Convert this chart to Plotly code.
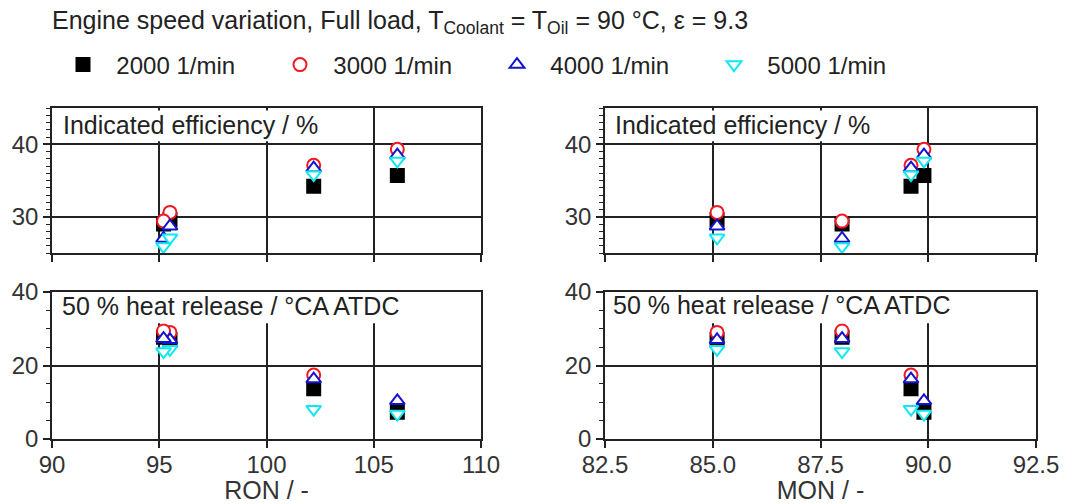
import plotly.graph_objects as go

# ---------------- data ----------------
ron = [95.5, 95.2, 102.2, 106.1]
mon = [85.1, 88.0, 89.6, 89.9]

speeds = ["2000 1/min", "3000 1/min", "4000 1/min", "5000 1/min"]

eff_2000 = [29.6, 29.0, 34.2, 35.7]
eff_3000 = [30.6, 29.4, 37.1, 39.3]
eff_4000 = [28.7, 27.0, 36.7, 38.5]
eff_5000 = [27.1, 25.9, 35.8, 37.7]

hr_2000 = [27.0, 27.7, 13.7, 7.3]
hr_3000 = [29.0, 29.4, 17.4, None]
hr_4000 = [27.0, 27.3, 16.3, 10.4]
hr_5000 = [24.4, 23.8, 8.1, 6.8]

eff = [eff_2000, eff_3000, eff_4000, eff_5000]
hr = [hr_2000, hr_3000, hr_4000, hr_5000]

ron_ticks = [90, 95, 100, 105, 110]
mon_ticks = [82.5, 85.0, 87.5, 90.0, 92.5]
mon_ticktext = ["82.5", "85.0", "87.5", "90.0", "92.5"]

# ---------------- styles ----------------
symbols = ["square", "circle", "triangle-up", "triangle-down"]
colors = ["#000000", "#f01822", "#1414d0", "#10e8f0"]
fills = ["#000000", "white", "white", "white"]

FONT = "Liberation Sans, Arial, sans-serif"
W, H = 1078, 504
LINE = "#222222"

fig = go.Figure()

axes = [("x", "y", ron, eff), ("x2", "y2", mon, eff), ("x3", "y3", ron, hr), ("x4", "y4", mon, hr)]
for k, (xa, ya, xs, ys) in enumerate(axes):
    for i in range(4):
        fig.add_trace(go.Scatter(
            x=xs, y=ys[i], mode="markers", xaxis=xa, yaxis=ya,
            name="\u00a0\u00a0" + speeds[i], showlegend=(k == 0),
            marker=dict(symbol=symbols[i], size=13, color=fills[i],
                        line=dict(color=colors[i], width=2)),
        ))

def px_x(p):
    return p / W

def px_y(p):
    return 1 - p / H

dom_left = [px_x(52), px_x(481)]
dom_right = [px_x(605), px_x(1036)]
dom_top = [px_y(253), px_y(108)]
dom_bot = [px_y(439), px_y(292)]

tickfont = dict(family=FONT, size=24, color="#333333")

def xaxis(domain, rng, tv, tt, anchor, labels, title=None):
    d = dict(domain=domain, range=rng, anchor=anchor, tickvals=tv, ticktext=tt,
             showticklabels=labels, ticks="outside", ticklen=7, tickwidth=1.5, tickcolor=LINE,
             ticklabelstandoff=-4,
             showgrid=True, gridcolor=LINE, gridwidth=1.5, zeroline=False,
             showline=True, mirror=True, linecolor=LINE, linewidth=1.5,
             tickfont=tickfont, automargin=False, fixedrange=True)
    if title:
        d["title"] = dict(text=title, font=dict(family=FONT, size=25, color="#333333"), standoff=2)
    return d

def yaxis(domain, rng, tv, minor_dtick, anchor):
    return dict(domain=domain, range=rng, anchor=anchor, tickvals=tv,
                ticks="outside", ticklen=7, tickwidth=1.5, tickcolor=LINE,
                minor=dict(dtick=minor_dtick, tick0=0, ticks="outside", ticklen=4,
                           tickwidth=1, tickcolor=LINE, showgrid=False),
                showgrid=True, gridcolor=LINE, gridwidth=1.5, zeroline=False,
                showline=True, mirror=True, linecolor=LINE, linewidth=1.5,
                tickfont=tickfont, automargin=False, fixedrange=True)

fig.update_layout(
    width=W, height=H,
    margin=dict(l=0, r=0, t=0, b=0),
    paper_bgcolor="white", plot_bgcolor="white",
    font=dict(family=FONT, size=24, color="#333333"),
    xaxis=xaxis(dom_left, [90, 110], ron_ticks, [str(t) for t in ron_ticks], "y", False),
    yaxis=yaxis(dom_top, [25, 45], [30, 40], 1, "x"),
    xaxis2=xaxis(dom_right, [82.5, 92.5], mon_ticks, mon_ticktext, "y2", False),
    yaxis2=yaxis(dom_top, [25, 45], [30, 40], 1, "x2"),
    xaxis3=xaxis(dom_left, [90, 110], ron_ticks, [str(t) for t in ron_ticks], "y3", True, "RON / -"),
    yaxis3=yaxis(dom_bot, [0, 40], [0, 20, 40], 5, "x3"),
    xaxis4=xaxis(dom_right, [82.5, 92.5], mon_ticks, mon_ticktext, "y4", True, "MON / -"),
    yaxis4=yaxis(dom_bot, [0, 40], [0, 20, 40], 5, "x4"),
    legend=dict(orientation="h", x=px_x(63), y=px_y(65), xanchor="left", yanchor="middle",
                entrywidth=172, entrywidthmode="pixels",
                font=dict(family=FONT, size=24, color="#222222"),
                bgcolor="rgba(0,0,0,0)", itemclick=False, itemdoubleclick=False),
    showlegend=True,
)

# white label boxes covering grid lines behind panel labels
shapes = [
    dict(type="rect", xref="x", yref="y", x0=90.1, x1=103.5, y0=40.4, y1=44.65),
    dict(type="rect", xref="x2", yref="y2", x0=82.55, x1=89.0, y0=40.4, y1=44.65),
    dict(type="rect", xref="x3", yref="y3", x0=90.08, x1=106.35, y0=31.5, y1=40.6),
    dict(type="rect", xref="x4", yref="y4", x0=82.54, x1=90.57, y0=31.5, y1=40.6),
]
for s in shapes:
    s.update(fillcolor="white", line=dict(width=0), layer="above")
fig.update_layout(shapes=shapes)

label_font = dict(family=FONT, size=25, color="#222222")
annotations = [
    dict(text="Engine speed variation, Full load, T<sub>Coolant</sub> = T<sub>Oil</sub> = 90 °C, ε = 9.3",
         xref="paper", yref="paper", x=px_x(50), y=px_y(22), xanchor="left", yanchor="middle",
         showarrow=False, font=label_font),
    dict(text="Indicated efficiency / %", xref="paper", yref="paper", x=px_x(61), y=px_y(125),
         xanchor="left", yanchor="middle", showarrow=False, font=label_font),
    dict(text="Indicated efficiency / %", xref="paper", yref="paper", x=px_x(613), y=px_y(125),
         xanchor="left", yanchor="middle", showarrow=False, font=label_font),
    dict(text="50 % heat release / °CA ATDC", xref="paper", yref="paper", x=px_x(60), y=px_y(306),
         xanchor="left", yanchor="middle", showarrow=False, font=label_font),
    dict(text="50 % heat release / °CA ATDC", xref="paper", yref="paper", x=px_x(611), y=px_y(305),
         xanchor="left", yanchor="middle", showarrow=False, font=label_font),
]
fig.update_layout(annotations=annotations)

fig.write_html("out.html")
